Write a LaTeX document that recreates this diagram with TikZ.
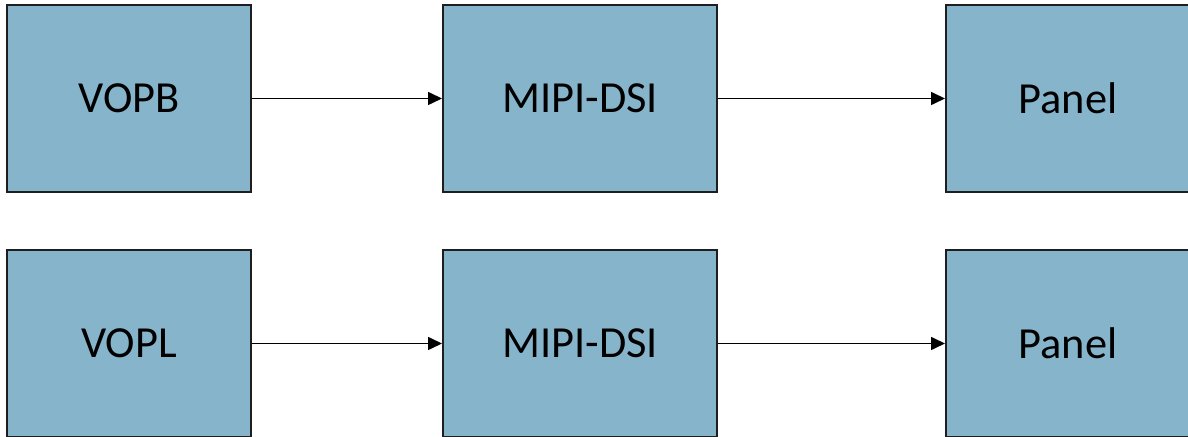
\documentclass[tikz,border=0pt]{standalone}
\usepackage{fontspec}
\setmainfont{Carlito}
\usetikzlibrary{arrows.meta}
\definecolor{blockfill}{RGB}{134,180,203}
\definecolor{blockline}{RGB}{30,30,30}

\tikzset{
  block/.style={draw=blockline, line width=1pt, fill=blockfill, inner sep=0pt,
    minimum height=93.5pt, font=\fontsize{22.2}{26}\selectfont},
  link/.style={line width=0.8pt, -{Triangle[length=7pt,width=6.5pt]}}
}

\begin{document}
\begin{tikzpicture}[x=0.5pt, y=-0.5pt]

\clip (0,0) rectangle (1188,437);
\fill[white] (0,0) rectangle (1188,437);

% First row
\node[block, minimum width=122pt] (vopb) at (129, 98.5) {VOPB};
\node[block, minimum width=137pt] (dsib) at (580, 98.5) {MIPI-DSI};
\node[block, minimum width=122pt] (panelb) at (1068, 98.5) {Panel};

% Second row
\node[block, minimum width=122pt] (vopl) at (129, 343.5) {VOPL};
\node[block, minimum width=137pt] (dsil) at (580, 343.5) {MIPI-DSI};
\node[block, minimum width=122pt] (panell) at (1068, 343.5) {Panel};

% Connections
\draw[link] (vopb) -- (dsib);
\draw[link] (dsib) -- (panelb);
\draw[link] (vopl) -- (dsil);
\draw[link] (dsil) -- (panell);

\end{tikzpicture}
\end{document}
